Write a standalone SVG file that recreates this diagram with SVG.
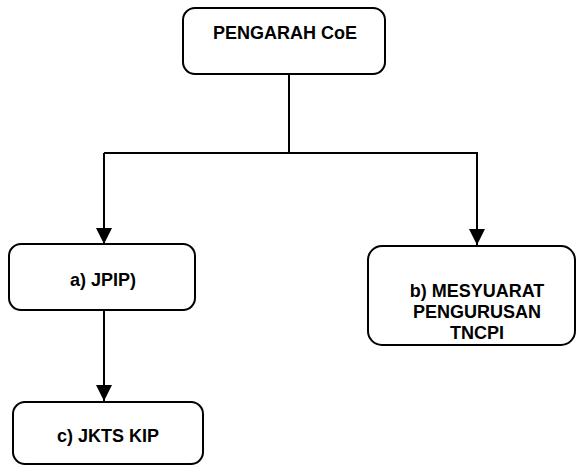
<svg xmlns="http://www.w3.org/2000/svg" width="576" height="467" viewBox="0 0 576 467">
  <defs>
    <style>
      .box { fill: #ffffff; stroke: #000000; stroke-width: 2; }
      .lbl { font-family: "Liberation Sans", Arial, sans-serif; font-weight: bold; font-size: 18px; fill: #000000; text-anchor: middle; }
      .wire { fill: none; stroke: #000000; stroke-width: 2; }
    </style>
    <marker id="arrow" viewBox="0 0 16 16" refX="16" refY="8" markerWidth="16" markerHeight="16" markerUnits="userSpaceOnUse" orient="auto">
      <path d="M0,0 L16,8 L0,16 Z" fill="#000000"/>
    </marker>
  </defs>
  <rect width="576" height="467" fill="#ffffff"/>

  <g id="connectors">
    <line class="wire" x1="289" y1="75" x2="289" y2="153"/>
    <line class="wire" x1="104" y1="153" x2="478" y2="153"/>
    <line class="wire" x1="104" y1="153" x2="104" y2="244" marker-end="url(#arrow)"/>
    <line class="wire" x1="477" y1="153" x2="477" y2="245" marker-end="url(#arrow)"/>
    <line class="wire" x1="104" y1="311" x2="104" y2="401" marker-end="url(#arrow)"/>
  </g>

  <g id="pengarah">
    <rect class="box" x="183" y="8" width="202" height="66" rx="12"/>
    <text class="lbl" x="285" y="39">PENGARAH CoE</text>
  </g>

  <g id="jpip">
    <rect class="box" x="9" y="244" width="186" height="66" rx="12"/>
    <text class="lbl" x="103" y="286">a) JPIP)</text>
  </g>

  <g id="mesyuarat">
    <rect class="box" x="368" y="246" width="207" height="99" rx="14"/>
    <text class="lbl" x="477" y="297">b) MESYUARAT</text>
    <text class="lbl" x="477" y="318">PENGURUSAN</text>
    <text class="lbl" x="477" y="339">TNCPI</text>
  </g>

  <g id="jkts">
    <rect class="box" x="13" y="402" width="190" height="62" rx="12"/>
    <text class="lbl" x="108" y="442">c) JKTS KIP</text>
  </g>
</svg>
